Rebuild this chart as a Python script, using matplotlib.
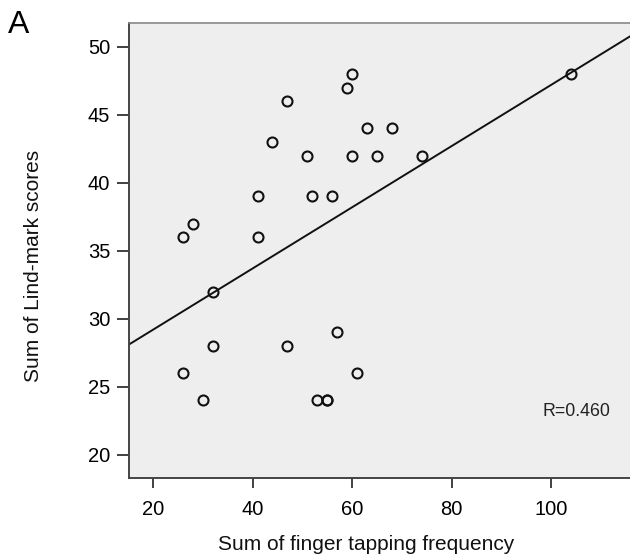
import numpy as np
import matplotlib
matplotlib.use("Agg")
import matplotlib.pyplot as plt

plt.rcParams['font.family'] = ['Liberation Sans', 'DejaVu Sans']

# values
tapping = [26, 28, 41, 41, 44, 47, 51, 52, 56, 59, 60, 60, 63, 65, 68, 74, 104,
           32, 32, 26, 30, 47, 57, 61, 53, 55, 55]
lindmark = [36, 37, 39, 36, 43, 46, 42, 39, 39, 47, 48, 42, 44, 42, 44, 42, 48,
            32, 28, 26, 24, 28, 29, 26, 24, 24, 24]
x_ticks = [20, 40, 60, 80, 100]
y_ticks = [20, 25, 30, 35, 40, 45, 50]
r_text = "R=0.460"

fig = plt.figure(figsize=(6.3, 5.58), dpi=100)
ax = fig.add_axes([0.2048, 0.1434, 0.7952, 0.8154])
ax.set_facecolor('#eeeeee')

ax.set_xlim(15.2, 115.8)
ax.set_ylim(18.3, 51.75)

# least squares fit line across the whole axis
slope, icept = np.polyfit(tapping, lindmark, 1)
xl = np.array(ax.get_xlim())
ax.plot(xl, icept + slope * xl, color='#111111', lw=1.4, zorder=2)

ax.plot(tapping, lindmark, linestyle='none', marker='o', markersize=7.2,
        markerfacecolor='none', markeredgecolor='#111111', markeredgewidth=1.5,
        zorder=3)

ax.set_xticks(x_ticks)
ax.set_yticks(y_ticks)
ax.tick_params(axis='both', width=1.3, color='#333333',
               labelsize=14.5, labelcolor='#000000')
ax.tick_params(axis='x', length=7.2, pad=8.5)
ax.tick_params(axis='y', length=8.6, pad=5)

for s in ['left', 'bottom']:
    ax.spines[s].set_color('#444444')
    ax.spines[s].set_linewidth(1.4)
ax.spines['top'].set_color('#888888')
ax.spines['top'].set_linewidth(1.2)
ax.spines['right'].set_visible(False)

ax.set_xlabel("Sum of finger tapping frequency", fontsize=15, color='#111111')
ax.set_ylabel("Sum of Lind-mark scores", fontsize=15, color='#111111')
ax.xaxis.set_label_coords(0.473, -0.126)
ax.yaxis.set_label_coords(-0.171, 0.466)

ax.text(0.96, 0.147, r_text, transform=ax.transAxes, ha='right', va='center',
        fontsize=12.8, color='#222222')

fig.text(0.012, 1 - 33 / 558, "A", fontsize=23, va='baseline', ha='left')

fig.savefig("out.png", dpi=100)
